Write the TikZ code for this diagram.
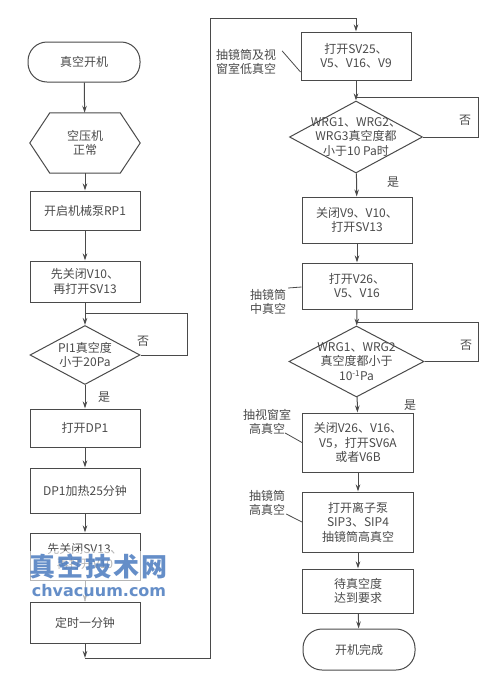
\documentclass[tikz,border=0pt]{standalone}
\usepackage{fontspec}
\setmainfont{Noto Sans CJK SC}
\newfontfamily\wmfont{DejaVu Sans}
\usetikzlibrary{shapes.geometric,arrows.meta,calc}
\definecolor{ink}{HTML}{4A4A4A}
\definecolor{wm}{HTML}{4A7BBF}
\begin{document}
\begin{tikzpicture}[x=1pt,y=-1pt,
  every node/.style={text=ink},
  txtf/.style={font=\fontsize{12}{14.5}\selectfont},
  box/.style={draw=ink, line width=1pt, txtf, minimum width=110pt, align=center, inner sep=1pt},
  term/.style={box, rounded corners=19pt},
  dia/.style={diamond, draw=ink, line width=1pt, inner sep=0pt},
  ghost/.style={draw=none, inner sep=0pt},
  dtext/.style={txtf, align=center, inner sep=0pt},
  lab/.style={txtf, inner sep=0pt},
  side/.style={txtf, align=center, inner sep=0pt},
  line/.style={draw=ink, line width=1pt},
  arr/.style={line, -{Stealth[length=7pt,width=4.5pt]}},
  lead/.style={draw=ink, line width=0.8pt}
]
\useasboundingbox (0,0) rectangle (501,681);

% ---------- left column ----------
\node[term, minimum width=112pt, minimum height=40pt] (start) at (84,62) {真空开机};
\node[ghost, minimum width=110pt, minimum height=60pt] (hex) at (85,143) {};
\draw[line] (hex.west) -- ($(hex.north west)+(20,0)$) -- ($(hex.north east)+(-20,0)$) -- (hex.east)
  -- ($(hex.south east)+(-20,0)$) -- ($(hex.south west)+(20,0)$) -- cycle;
\node[dtext] at (hex) {空压机\\正常};
\node[box, minimum height=39pt] (rp1) at (85,210.5) {开启机械泵RP1};
\node[box, minimum height=41pt] (v10) at (85,281.5) {先关闭V10、\\再打开SV13};
\node[dia, minimum width=110pt, minimum height=59pt] (d1) at (85,355) {};
\node[dtext] at (d1) {PI1真空度\\小于20Pa};
\node[box, minimum height=38pt] (dp1) at (85,428) {打开DP1};
\node[box, minimum height=45pt] (heat) at (85,490.5) {DP1加热25分钟};
\node[box, minimum height=47pt] (sv13) at (85,556.5) {先关闭SV13、\\再打开V10};
\node[box, minimum height=41pt] (timer) at (85,622.5) {定时一分钟};

\coordinate (j1) at (85,313);
\coordinate (j0) at (85,658);
\coordinate (c1) at (210,18);

\draw[arr] (start) -- (hex);
\draw[arr] (hex) -- (rp1);
\draw[arr] (rp1) -- (v10);
\draw[arr] (v10) -- (d1);
\draw[line] (d1.east) -- ++(47,0) |- (j1);
\draw[arr] (d1) -- (dp1);
\draw[arr] (dp1) -- (heat);
\draw[arr] (heat) -- (sv13);
\draw[arr] (sv13) -- (timer);
\draw[arr] (timer) -- (j0);
\node[lab] at (143,341) {否};
\node[lab] at (104,397) {是};

% ---------- right column ----------
\node[box, minimum height=48pt] (b1) at (356,56) {打开SV25、\\V5、V16、V9};
\draw[line] (j0) -| (c1);
\draw[arr] (c1) -| (b1);
\node[dia, minimum width=133pt, minimum height=72pt] (d2) at (356,137) {};
\node[dtext] at (d2) {WRG1、WRG2、\\WRG3真空度都\\小于10 Pa时};
\coordinate (j2) at (356,97);
\draw[arr] (b1) -- (d2);
\draw[line] (d2.east) -- ++(55,0) |- (j2);
\node[lab] at (465,120) {否};
\node[lab] at (393,182) {是};

\node[box, minimum height=46pt] (b2) at (357,220) {关闭V9、V10、\\打开SV13};
\draw[arr] (d2) -- (b2);
\node[box, minimum height=46pt] (b3) at (357,286) {打开V26、\\V5、V16};
\draw[arr] (b2) -- (b3);
\node[dia, minimum width=135pt, minimum height=71pt] (d3) at (356.5,361.5) {};
\node[dtext] at (d3) {WRG1、WRG2\\真空度都小于\\10\textsuperscript{-1}Pa};
\coordinate (j3) at (356.5,322);
\draw[arr] (b3) -- (d3);
\draw[line] (d3.east) -- ++(54,0) |- (j3);
\node[lab] at (466,345) {否};
\node[lab] at (410,405) {是};

\node[box, minimum width=111pt, minimum height=59pt] (b4) at (358,442.5) {关闭V26、V16、\\V5，打开SV6A\\或者V6B};
\draw[arr] (d3) -- (b4);
\node[box, minimum width=111pt, minimum height=60pt] (b5) at (358,522) {打开离子泵\\SIP3、SIP4\\抽镜筒高真空};
\draw[arr] (b4) -- (b5);
\node[box, minimum width=111pt, minimum height=44pt] (b6) at (358,591) {待真空度\\达到要求};
\draw[arr] (b5) -- (b6);
\node[term, minimum width=112pt, minimum height=41pt] (end) at (359,649.5) {开机完成};
\draw[arr] (b6) -- (end);

% ---------- side labels ----------
\node[side] (s1) at (246,62) {抽镜筒及视\\窗室低真空};
\draw[lead] ($(s1.north east)+(6,2)$) -- ($(b1.west)+(0,16)$);
\node[side] (s2) at (268,302) {抽镜筒\\中真空};
\draw[lead] ($(s2.north east)+(2,-1)$) -- ($(b3.west)+(0,1)$);
\node[side] (s3) at (267,422) {抽视窗室\\高真空};
\draw[lead] ($(s3.south east)+(-6,-2)$) -- ($(b4.west)+(0,0)$);
\node[side] (s4) at (267,503) {抽镜筒\\高真空};
\draw[lead] ($(s4.south east)+(1,-2)$) -- ($(b5.west)+(0,0)$);

% ---------- watermark ----------
\fill[white, opacity=0.6] (28,551) rectangle (172,600);
\node[text=wm, opacity=0.85, inner sep=0pt, font=\fontsize{26}{26}\selectfont\bfseries] (wm1) at (99,566) {真\hspace{2pt}空\hspace{2pt}技\hspace{2pt}术\hspace{2pt}网};
\node[text=wm, opacity=0.85, inner sep=0pt, font=\wmfont\bfseries\fontsize{16}{16}\selectfont] (wm2) at (99,591) {chvacuum.com};
\end{tikzpicture}
\end{document}
